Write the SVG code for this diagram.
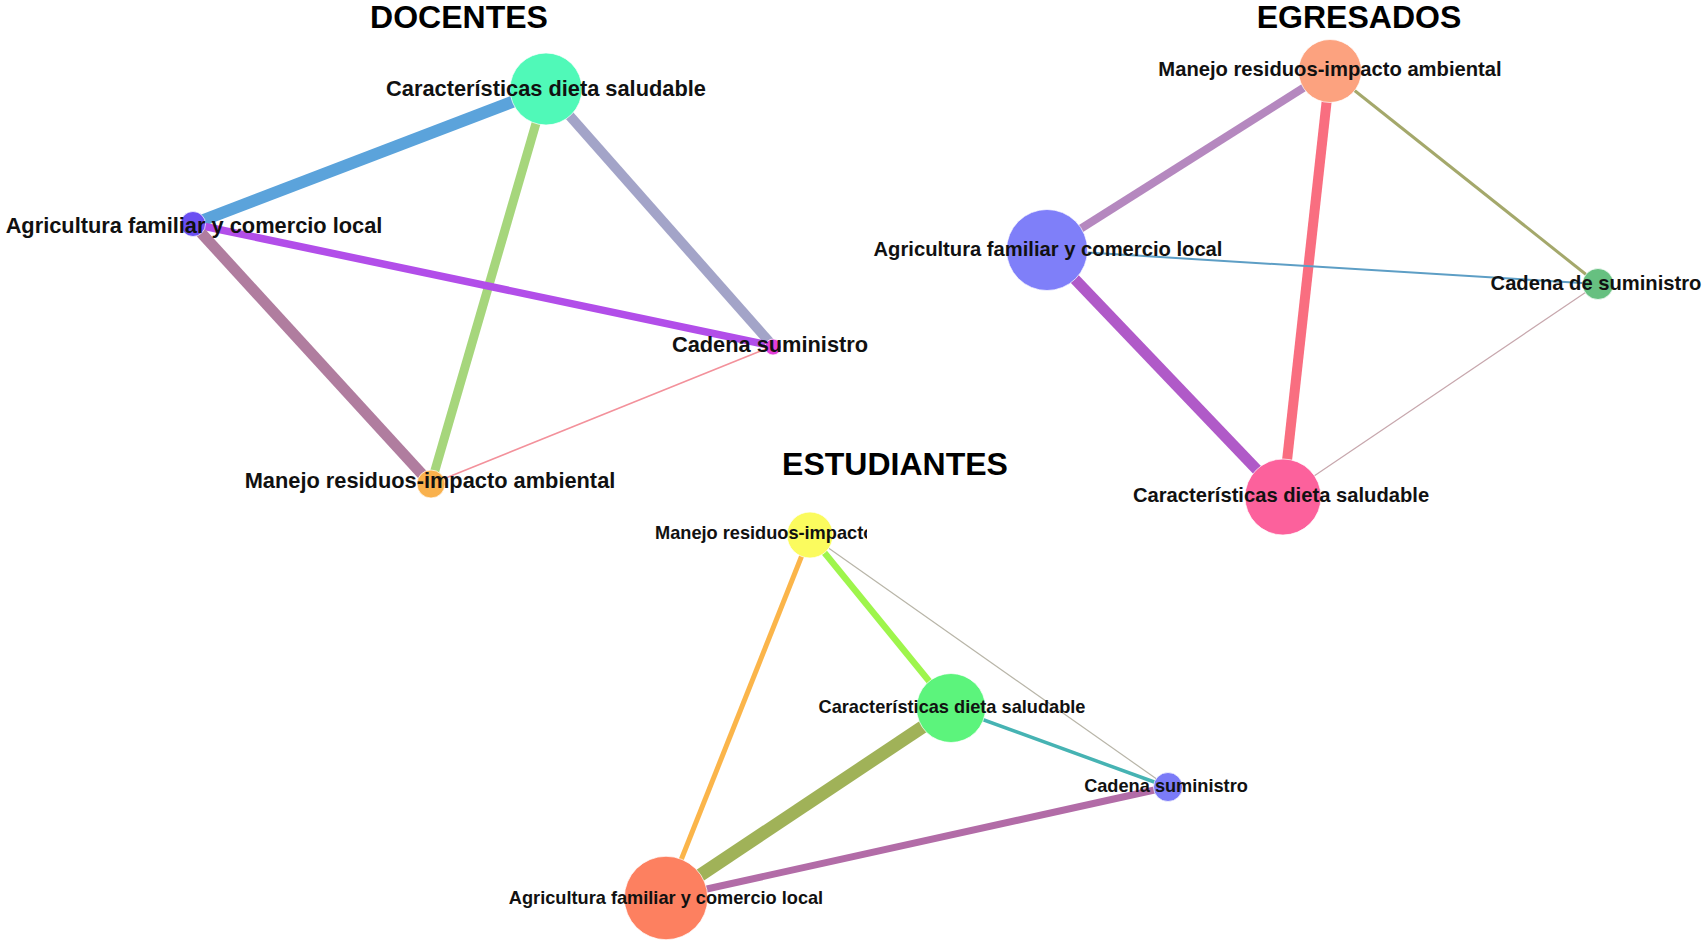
<svg xmlns="http://www.w3.org/2000/svg" width="1702" height="943" viewBox="0 0 1702 943">
<style>
text{font-family:"Liberation Sans",Arial,sans-serif;font-weight:bold;fill:#111;text-anchor:middle}
.title{font-size:32px;fill:#000}
.ld{font-size:21.8px}
.le{font-size:20.2px}
.ls{font-size:18.2px}
.node{stroke:#ffffff;stroke-opacity:0.7;stroke-width:1}
line{stroke-linecap:butt}
</style>
<defs>
<clipPath id="clipM"><rect x="600" y="515" width="267" height="35"/></clipPath>
</defs>
<g id="titles">
<text class="title" x="459" y="28">DOCENTES</text>
<text class="title" x="1359" y="27.5">EGRESADOS</text>
<text class="title" x="895" y="475">ESTUDIANTES</text>
</g>
<g id="connectors">
<!-- DOCENTES -->
<line x1="546" y1="89" x2="193" y2="224" stroke="#5ba3db" stroke-width="12"/>
<line x1="546" y1="89" x2="431" y2="484" stroke="#a6d67c" stroke-width="9"/>
<line x1="546" y1="89" x2="773" y2="346" stroke="#a3a4c8" stroke-width="10"/>
<line x1="193" y1="224" x2="773" y2="346" stroke="#b24ee9" stroke-width="7.5"/>
<line x1="193" y1="224" x2="431" y2="484" stroke="#b07d9f" stroke-width="11"/>
<line x1="431" y1="484" x2="773" y2="346" stroke="#f3919b" stroke-width="1.5"/>
<!-- EGRESADOS -->
<line x1="1330" y1="71" x2="1047" y2="250" stroke="#b588bf" stroke-width="8"/>
<line x1="1330" y1="71" x2="1283" y2="497" stroke="#f96e80" stroke-width="10"/>
<line x1="1330" y1="71" x2="1598" y2="284" stroke="#a4a86b" stroke-width="3"/>
<line x1="1047" y1="250" x2="1598" y2="284" stroke="#5d9ec5" stroke-width="2"/>
<line x1="1047" y1="250" x2="1283" y2="497" stroke="#b05ac8" stroke-width="11"/>
<line x1="1283" y1="497" x2="1598" y2="284" stroke="#c7a7ad" stroke-width="1.2"/>
<!-- ESTUDIANTES -->
<line x1="810" y1="535" x2="666" y2="898" stroke="#fbb54a" stroke-width="5"/>
<line x1="810" y1="535" x2="951" y2="708" stroke="#9ef54c" stroke-width="6.5"/>
<line x1="810" y1="535" x2="1168" y2="787" stroke="#b8b5a8" stroke-width="1.2"/>
<line x1="951" y1="708" x2="1168" y2="787" stroke="#46b3b3" stroke-width="3.5"/>
<line x1="951" y1="708" x2="666" y2="898" stroke="#a0b258" stroke-width="13"/>
<line x1="666" y1="898" x2="1168" y2="787" stroke="#b26ca7" stroke-width="7"/>
</g>
<g id="doc-cds"><circle class="node" cx="546" cy="89" r="36" fill="#50f9b8"/><text class="ld" x="546" y="96">Características dieta saludable</text></g>
<g id="doc-afcl"><circle class="node" cx="193" cy="224" r="12.5" fill="#6b4ff2"/><text class="ld" x="194" y="233">Agricultura familiar y comercio local</text></g>
<g id="doc-cs"><circle class="node" cx="773" cy="347" r="8" fill="#e23fd9"/><text class="ld" x="770" y="352">Cadena suministro</text></g>
<g id="doc-mria"><circle class="node" cx="431" cy="484" r="14" fill="#f9b14d"/><text class="ld" x="430" y="488">Manejo residuos-impacto ambiental</text></g>
<g id="egr-mria"><circle class="node" cx="1330" cy="71" r="31.5" fill="#fca27f"/><text class="le" x="1330" y="76">Manejo residuos-impacto ambiental</text></g>
<g id="egr-afcl"><circle class="node" cx="1047" cy="250" r="40.5" fill="#7f7ff9"/><text class="le" x="1048" y="256">Agricultura familiar y comercio local</text></g>
<g id="egr-cds2"><circle class="node" cx="1598" cy="284" r="15.5" fill="#66c080"/><text class="le" x="1596" y="290">Cadena de suministro</text></g>
<g id="egr-cds"><circle class="node" cx="1283" cy="497" r="38" fill="#fc619c"/><text class="le" x="1281" y="502">Características dieta saludable</text></g>
<g id="est-mria"><circle class="node" cx="810" cy="535" r="23" fill="#fbfb5e"/><text class="ls" x="655" y="539" style="text-anchor:start" clip-path="url(#clipM)">Manejo residuos-impacto</text></g>
<g id="est-cds"><circle class="node" cx="951" cy="708" r="34.5" fill="#5cf47c"/><text class="ls" x="952" y="713">Características dieta saludable</text></g>
<g id="est-cs"><circle class="node" cx="1168" cy="787" r="14.5" fill="#7b7bf7"/><text class="ls" x="1166" y="792">Cadena suministro</text></g>
<g id="est-afcl"><circle class="node" cx="666" cy="898" r="41.7" fill="#fd8060"/><text class="ls" x="666" y="904">Agricultura familiar y comercio local</text></g>
</svg>
